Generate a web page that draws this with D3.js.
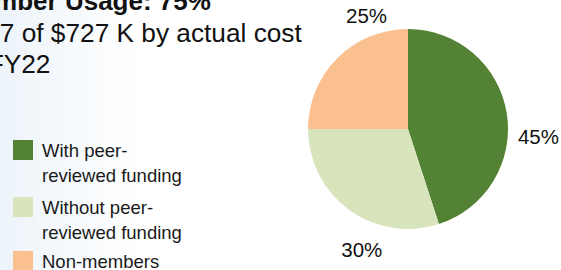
<!DOCTYPE html>
<html>
<head>
<meta charset="utf-8">
<script src="https://cdn.jsdelivr.net/npm/d3@7"></script>
<style>
  html, body { margin: 0; padding: 0; background: #fff; }
  svg { display: block; font-family: "Liberation Sans", Arial, sans-serif; }
</style>
</head>
<body>
<div id="chart"></div>
<script>
// data
const categories = ["With peer-reviewed funding", "Without peer-reviewed funding", "Non-members"]
const legendLines = [["With peer-", "reviewed funding"], ["Without peer-", "reviewed funding"], ["Non-members"]]
const shares = [45, 30, 25]
const titleLines = ["Member Usage: 75%", "$547 of $727 K by actual cost", "in FY22"]

const colors = ["#548235", "#d8e4bc", "#fac090"]

const width = 561
const height = 270
const cx = 408, cy = 129, radius = 100

const svg = d3.select('#chart').append('svg')
    .attr('width', width)
    .attr('height', height)

// soft blue wash on the left, like the slide background
const grad = svg.append('defs').append('linearGradient')
    .attr('id', 'bg')
    .attr('x1', '0').attr('x2', '1').attr('y1', '0').attr('y2', '0')
grad.append('stop').attr('offset', '0%').attr('stop-color', '#edf4fa')
grad.append('stop').attr('offset', '25%').attr('stop-color', '#ffffff')
grad.append('stop').attr('offset', '100%').attr('stop-color', '#ffffff')

svg.append('rect')
    .attr('width', width)
    .attr('height', height)
    .attr('fill', 'url(#bg)')

// title (runs off the left edge in the original)
const titleX = [-42, -44, -40]
const title = svg.append('g').attr('fill', '#111')
titleLines.forEach((t, i) => {
    title.append('text')
        .attr('transform', 'translate(' + titleX[i] + ',' + (10 + i * 31.7) + ')' + (i === 0 ? '' : ' scale(1.05,1)'))
        .style('font-size', i === 0 ? '26px' : '25px')
        .style('font-weight', i === 0 ? 'bold' : 'normal')
        .text(t)
})

// pie
const pie = d3.pie().sort(null).value(d => d)
const arcs = pie(shares)
const arc = d3.arc().innerRadius(0).outerRadius(radius)
const labelArc = d3.arc().innerRadius(128).outerRadius(128)

const g = svg.append('g').attr('transform', 'translate(' + cx + ',' + cy + ')')

g.selectAll('path')
    .data(arcs)
    .join('path')
    .attr('d', arc)
    .attr('fill', (d, i) => colors[i])

// excel's "best fit" nudges the labels off the mid-angle ray
const labelShift = [[4, 28], [29, 17], [49, -23]]

g.selectAll('text.lbl')
    .data(arcs)
    .join('text')
    .attr('class', 'lbl')
    .attr('transform', (d, i) => {
        const c = labelArc.centroid(d)
        return 'translate(' + (c[0] + labelShift[i][0]) + ',' + (c[1] + labelShift[i][1]) + ')'
    })
    .attr('text-anchor', 'middle')
    .attr('dy', '0.36em')
    .style('font-size', '20.5px')
    .attr('fill', '#111')
    .text(d => d.data + '%')

// legend
const legend = svg.append('g')
const legendTop = [140, 197, 251]
categories.forEach((c, i) => {
    const item = legend.append('g').attr('transform', 'translate(0,' + legendTop[i] + ')')
    item.append('rect')
        .attr('x', 13)
        .attr('y', 0)
        .attr('width', 20)
        .attr('height', 20)
        .attr('fill', colors[i])
    legendLines[i].forEach((t, j) => {
        item.append('text')
            .attr('x', 42)
            .attr('y', 17 + j * 24.5)
            .style('font-size', '18.5px')
            .attr('fill', '#1a1a1a')
            .text(t)
    })
})
</script>
</body>
</html>
